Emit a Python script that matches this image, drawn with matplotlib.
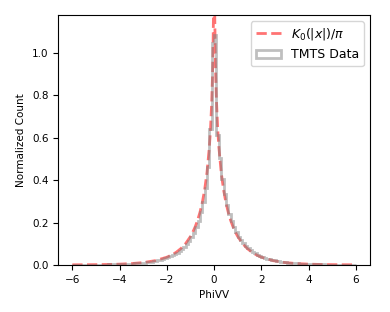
# -*- coding: utf-8 -*-
"""
Histograma normalizado de PhiVV (datos TMTS) comparado con K0(|x|)/pi.
"""

import matplotlib
matplotlib.use("Agg")
import matplotlib.pyplot as plt
import numpy as np

# Alturas del histograma (bins de 0.1 entre -6 y 6)
# lado izquierdo: desde el bin [-0.1, 0] hacia afuera
left_counts = [1.050, 0.640, 0.462, 0.365, 0.298, 0.248, 0.209, 0.178, 0.152, 0.131,
               0.113, 0.098, 0.086, 0.075, 0.066, 0.058, 0.051, 0.045, 0.040, 0.035,
               0.031, 0.027, 0.024, 0.021, 0.019, 0.017, 0.015, 0.013, 0.012, 0.011,
               0.0095, 0.0085, 0.0076, 0.0068, 0.0060, 0.0054, 0.0048, 0.0043, 0.0038, 0.0034,
               0.0030, 0.0027, 0.0024, 0.0022, 0.0019, 0.0017, 0.0015, 0.0014, 0.0012, 0.0011,
               0.0010, 0.0009, 0.0008, 0.0007, 0.0006, 0.0006, 0.0005, 0.0005, 0.0004, 0.0004]
# lado derecho: desde el bin [0, 0.1] hacia afuera
right_counts = [1.085, 0.613, 0.505, 0.405, 0.336, 0.283, 0.240, 0.205, 0.177, 0.153,
                0.133, 0.116, 0.101, 0.089, 0.078, 0.069, 0.061, 0.054, 0.048, 0.042,
                0.037, 0.033, 0.029, 0.026, 0.023, 0.021, 0.018, 0.016, 0.014, 0.013,
                0.012, 0.010, 0.009, 0.008, 0.0075, 0.0066, 0.0060, 0.0054, 0.0048, 0.0043,
                0.0039, 0.0035, 0.0031, 0.0028, 0.0025, 0.0023, 0.0020, 0.0018, 0.0016, 0.0015,
                0.0013, 0.0012, 0.0011, 0.0010, 0.0009, 0.0008, 0.0007, 0.0006, 0.0006, 0.0005]

# Curva K0(|x|)/pi (es par, se guardan los x > 0)
curve_x = [0.01, 0.02, 0.03, 0.05, 0.07, 0.1, 0.15, 0.2, 0.3, 0.4, 0.5, 0.6, 0.7,
           0.8, 0.9, 1.0, 1.2, 1.4, 1.6, 1.8, 2.0, 2.5, 3.0, 3.5, 4.0, 4.5, 5.0, 5.5, 6.0]
curve_y = [1.503, 1.282, 1.154, 0.991, 0.885, 0.773, 0.646, 0.558, 0.437, 0.355, 0.294,
           0.2475, 0.210, 0.180, 0.155, 0.134, 0.1014, 0.0776, 0.0598, 0.0464, 0.0363,
           0.0198, 0.0110, 0.0062, 0.00355, 0.0020, 0.00117, 0.0007, 0.0004]


def main():
    heights = np.array(left_counts[::-1] + right_counts)
    edges = np.linspace(-6, 6, len(heights) + 1)

    x = np.concatenate([-np.array(curve_x[::-1]), np.array(curve_x)])
    y = np.concatenate([np.array(curve_y[::-1]), np.array(curve_y)])

    fig = plt.figure(figsize=(3.9, 3.12), dpi=100)
    ax = fig.add_axes([0.149, 0.151, 0.8, 0.801])

    ax.plot(x, y, "r--", lw=2, alpha=0.55, label=r"$K_0(|x|)/\pi$")
    ax.hist(edges[:-1], bins=edges, weights=heights, histtype="step",
            color="gray", lw=2, alpha=0.5, label="TMTS Data")

    ax.set_xlim(-6.6, 6.6)
    ax.set_ylim(0, 1.18)
    ax.set_xticks([-6, -4, -2, 0, 2, 4, 6])
    ax.set_yticks([0.0, 0.2, 0.4, 0.6, 0.8, 1.0])
    ax.tick_params(labelsize=7.5)
    ax.set_xlabel("PhiVV", fontsize=7.5)
    ax.set_ylabel("Normalized Count", fontsize=7.5)
    ax.legend(loc="upper right", fontsize=9)

    fig.savefig("out.png", dpi=100)
    plt.close(fig)


if __name__ == "__main__":
    main()
